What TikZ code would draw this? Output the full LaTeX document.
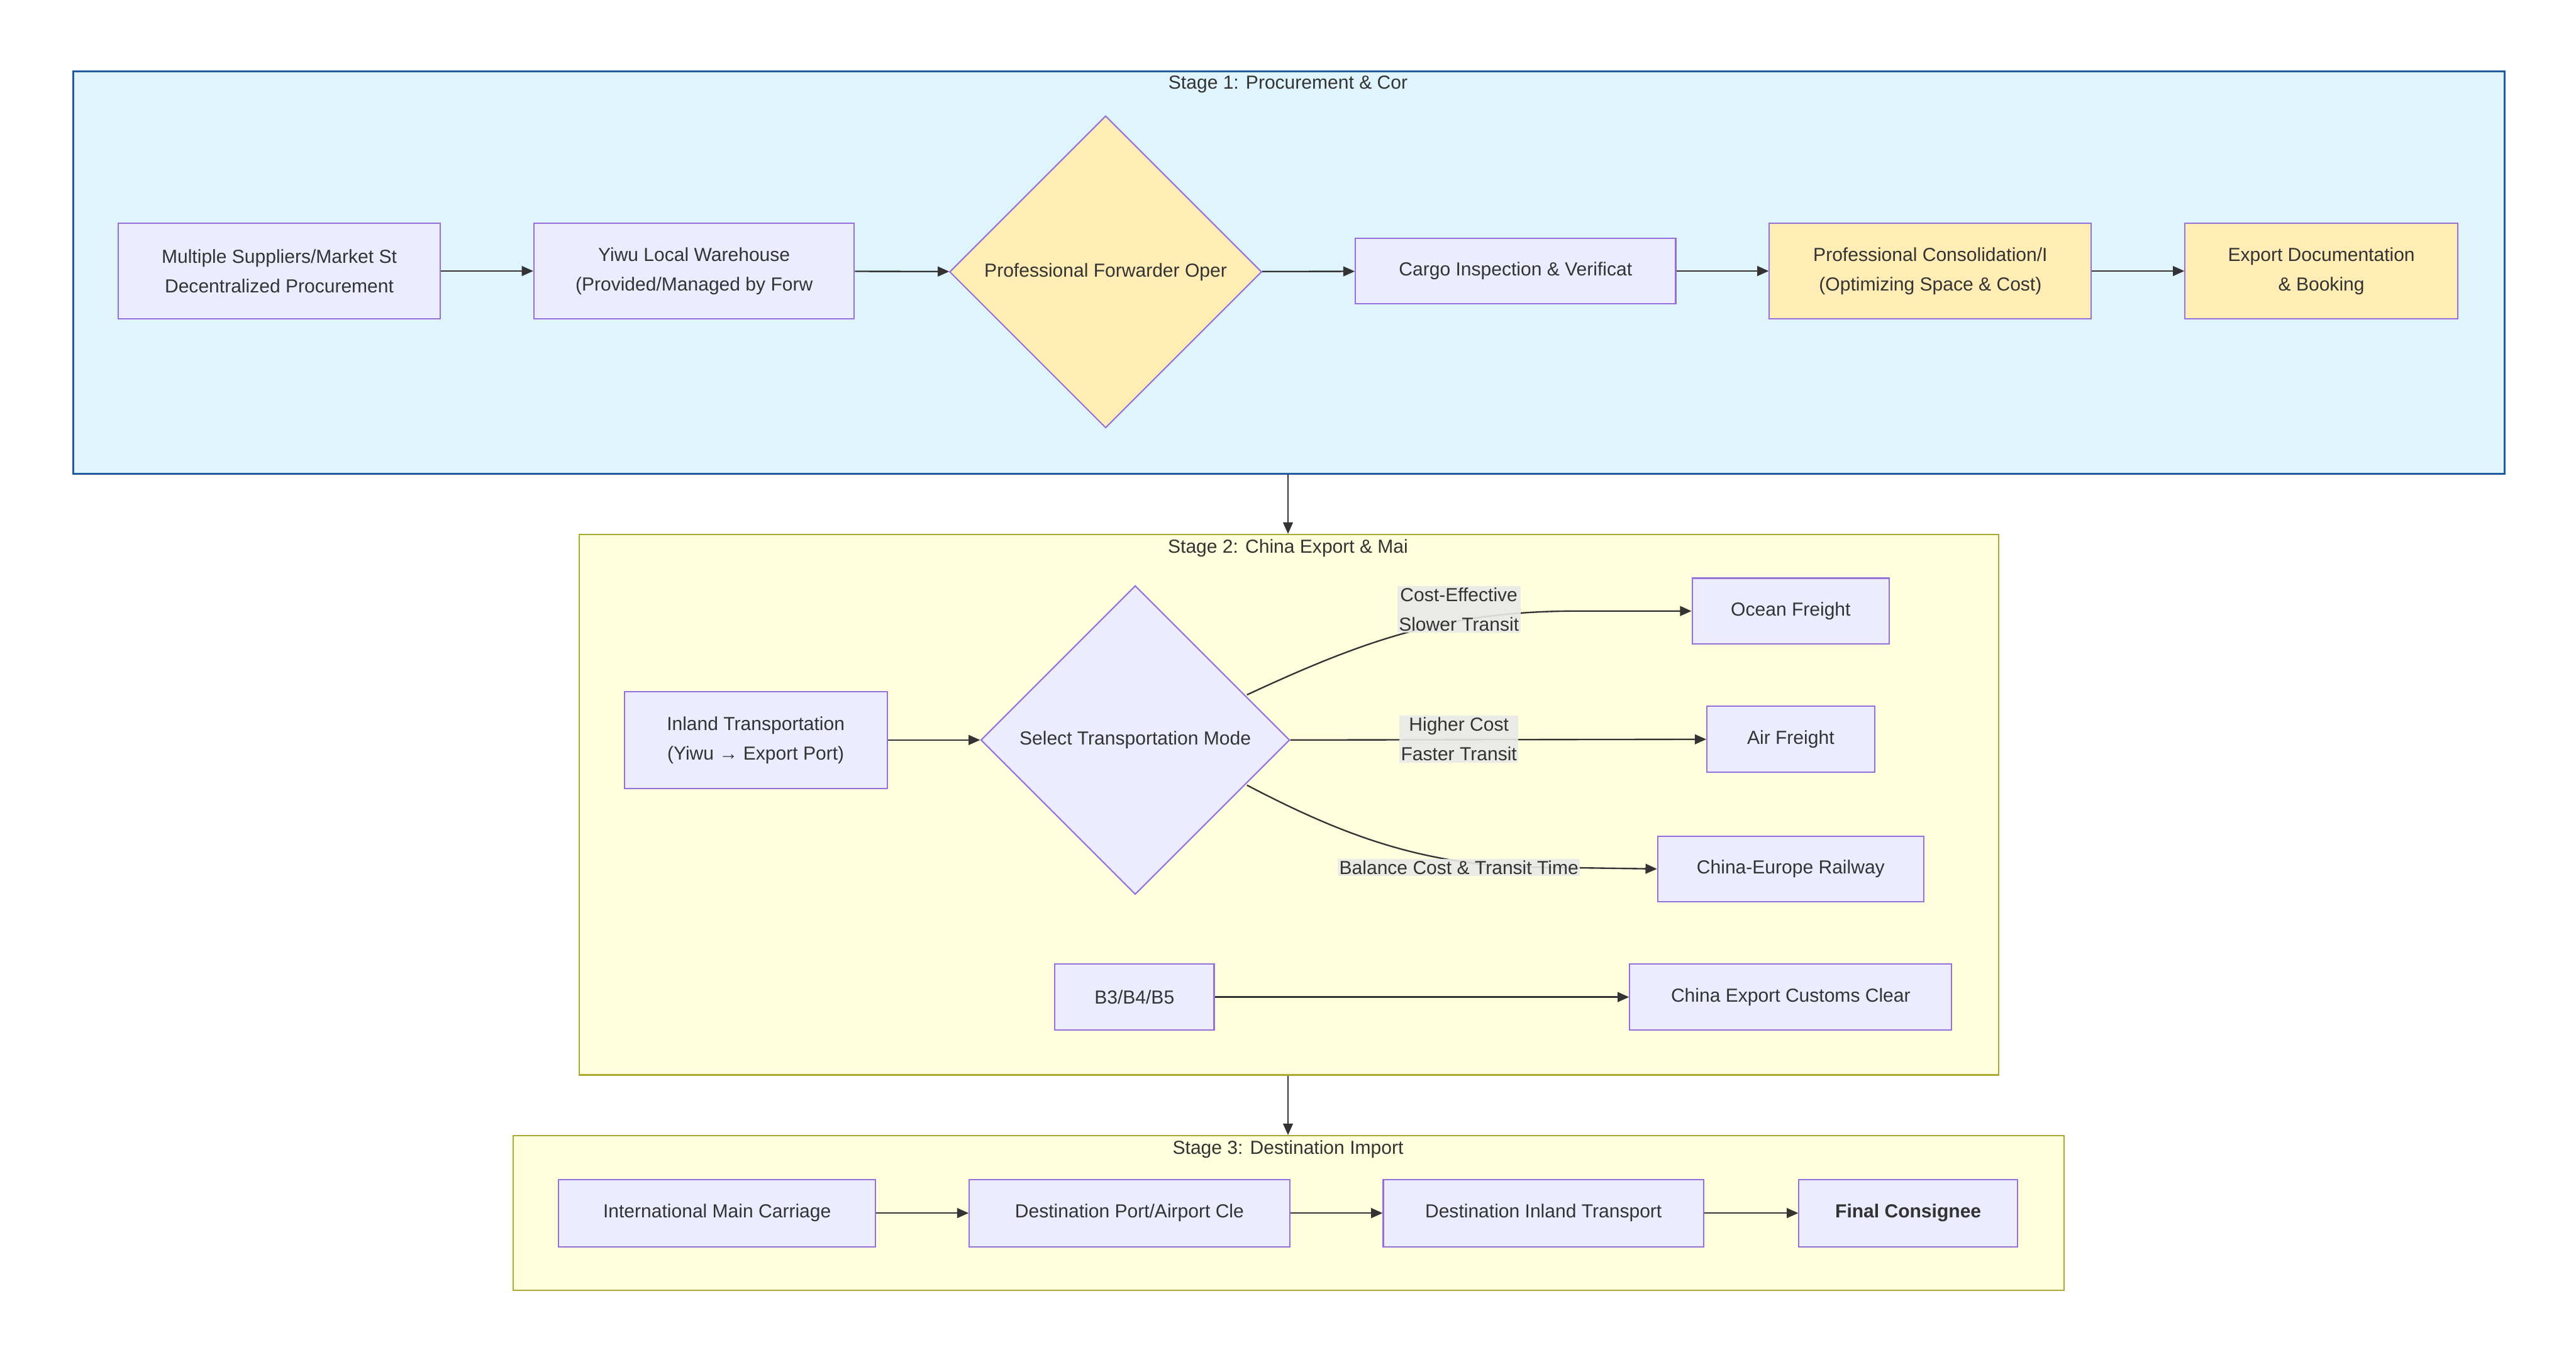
\documentclass[tikz,border=0pt]{standalone}
\usepackage{fontspec}
\setmainfont{Liberation Sans}
\usetikzlibrary{shapes.geometric,arrows.meta}
\definecolor{nfill}{HTML}{ECECFF}
\definecolor{nstroke}{HTML}{9370DB}
\definecolor{yfill}{HTML}{FFEDB5}
\definecolor{s1fill}{HTML}{E0F4FD}
\definecolor{s1stroke}{HTML}{1F5BA0}
\definecolor{s2fill}{HTML}{FFFFDE}
\definecolor{s2stroke}{HTML}{AAAA33}
\definecolor{txt}{HTML}{333333}
\definecolor{lbl}{HTML}{E8E8E8}
\begin{document}
\begin{tikzpicture}[x=1pt,y=-1pt,
  every node/.style={font=\fontsize{11.5}{18}\selectfont,text=txt},
  box/.style={draw=nstroke,fill=nfill,line width=0.8pt,inner sep=0,align=center,minimum width=#1},
  ybox/.style={box=#1,fill=yfill},
  dia/.style={diamond,draw=nstroke,line width=0.8pt,inner sep=0,minimum width=#1,minimum height=#1,align=center},
  cl/.style={draw,line width=0.9pt,inner sep=0,anchor=north west},
  ttl/.style={anchor=north,inner sep=0},
  el/.style={fill=lbl,inner sep=1pt,align=center,fill opacity=0.9,text opacity=1},
  arr/.style={draw=txt,line width=0.9pt,-{Triangle[length=7pt,width=6pt]}}]
\useasboundingbox (0,0) rectangle (1568,829);
% clusters
\node[cl,draw=s1stroke,fill=s1fill,line width=1.2pt,minimum width=1480,minimum height=245] (S1) at (44,43) {};
\node[cl,draw=s2stroke,fill=s2fill,minimum width=864,minimum height=329] (S2) at (352,325) {};
\node[cl,draw=s2stroke,fill=s2fill,minimum width=944,minimum height=94] (S3) at (312,691) {};
\node[ttl] (t1) at (784,46) {Stage 1: Procurement \& Cor};
\node[ttl] (t2) at (784,328) {Stage 2: China Export \& Mai};
\node[ttl] (t3) at (784,694) {Stage 3: Destination Import};
% stage 1
\node[box=196,minimum height=58] (A) at (170,165) {Multiple Suppliers/Market St\\Decentralized Procurement};
\node[box=195,minimum height=58] (B) at (422.5,165) {Yiwu Local Warehouse\\(Provided/Managed by Forw};
\node[dia=190,fill=yfill] (C) at (673,165.5) {Professional Forwarder Oper};
\node[box=195,minimum height=40] (D) at (922.5,165) {Cargo Inspection \& Verificat};
\node[ybox=196,minimum height=58] (E) at (1175,165) {Professional Consolidation/I\\(Optimizing Space \& Cost)};
\node[ybox=166,minimum height=58] (F) at (1413,165) {Export Documentation\\\& Booking};
\draw[arr] (A) -- (B);
\draw[arr] (B) -- (C);
\draw[arr] (C) -- (D);
\draw[arr] (D) -- (E);
\draw[arr] (E) -- (F);
% stage 2
\node[box=160,minimum height=59] (G) at (460,450.5) {Inland Transportation\\(Yiwu → Export Port)};
\node[dia=188,fill=nfill] (H) at (691,450.5) {Select Transportation Mode};
\node[box=120,minimum height=40] (O) at (1090,372) {Ocean Freight};
\node[box=102,minimum height=40] (Ai) at (1090,450) {Air Freight};
\node[box=162,minimum height=40] (R) at (1090,529) {China-Europe Railway};
\node[box=97,minimum height=40] (B3) at (690.5,607) {B3/B4/B5};
\node[box=196,minimum height=40] (CC) at (1090,607) {China Export Customs Clear};
\draw[arr] (G) -- (H);
\draw[arr] (759,423) .. controls (830,390) and (880,372) .. (960,372) -- (O.west);
\draw[arr] (H.east) -- (Ai);
\draw[arr] (759,478) .. controls (820,510) and (870,528) .. (940,528) -- (R.west);
\node[el] (l1) at (888,371) {Cost-Effective\\Slower Transit};
\node[el] (l2) at (888,450) {Higher Cost\\Faster Transit};
\node[el] (l3) at (888,528) {Balance Cost \& Transit Time};
\draw[arr] (B3) -- (CC);
% stage 3
\node[box=193,minimum height=41] (I) at (436.5,738.5) {International Main Carriage};
\node[box=195,minimum height=41] (J) at (687.5,738.5) {Destination Port/Airport Cle};
\node[box=195,minimum height=41] (K) at (939.5,738.5) {Destination Inland Transport};
\node[box=133,minimum height=41,font=\fontsize{11.5}{18}\selectfont\bfseries] (L) at (1161.5,738.5) {Final Consignee};
\draw[arr] (I) -- (J);
\draw[arr] (J) -- (K);
\draw[arr] (K) -- (L);
% between stages
\draw[arr] (S1.south -| t1) -- (S2.north -| t1);
\draw[arr] (S2.south -| t1) -- (S3.north -| t1);
\end{tikzpicture}
\end{document}
